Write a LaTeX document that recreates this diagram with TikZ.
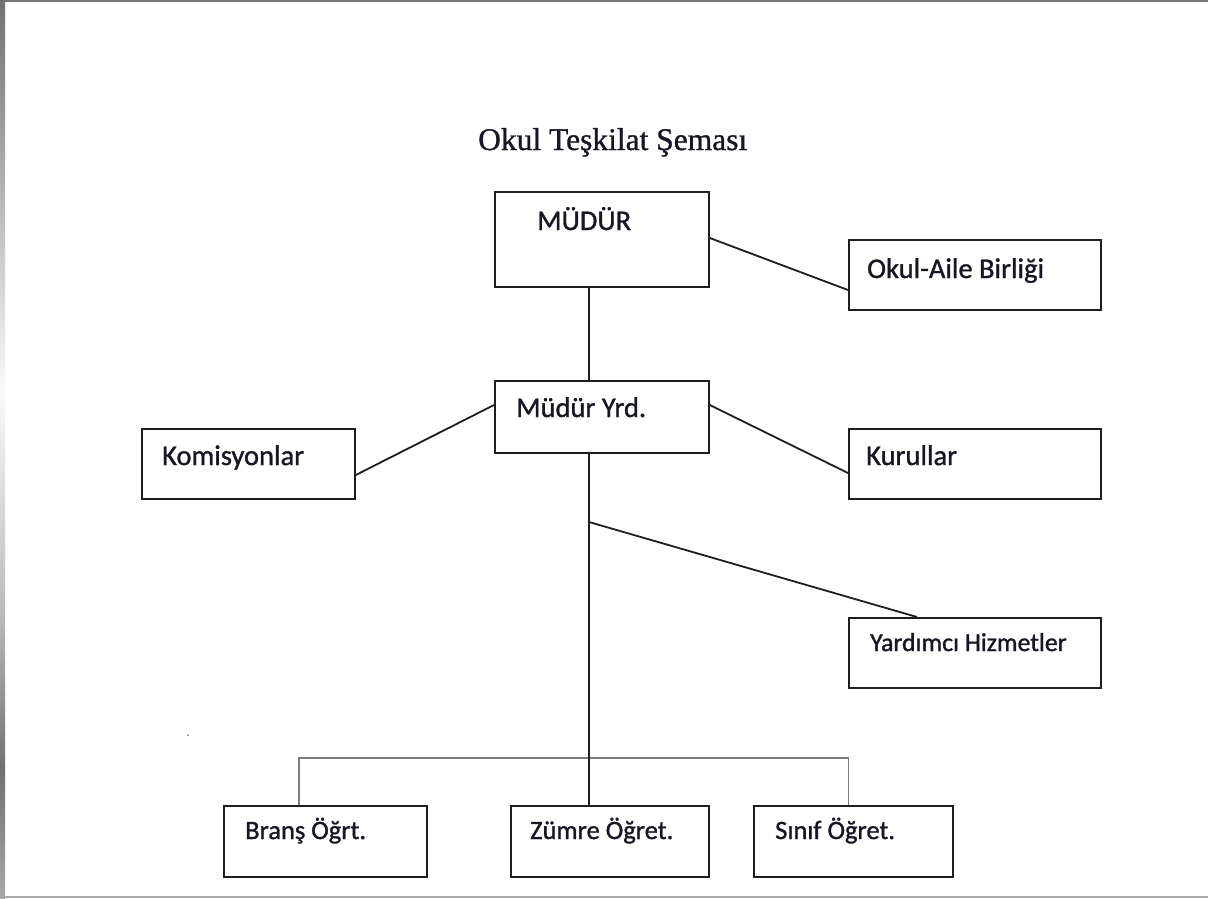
\documentclass[tikz,border=0pt]{standalone}
\usepackage{fontspec}
\setmainfont{Carlito}
\newfontfamily\titlefont{Liberation Serif}
\definecolor{textc}{RGB}{22,22,36}
\definecolor{linec}{RGB}{30,30,30}
\definecolor{brackc}{RGB}{125,125,125}
\definecolor{gA}{RGB}{112,112,112}
\definecolor{gB}{RGB}{176,176,176}
\definecolor{gC}{RGB}{250,250,250}
\definecolor{gD}{RGB}{184,184,184}
\definecolor{gE}{RGB}{168,168,168}
\definecolor{topc}{RGB}{119,119,119}
\definecolor{botc}{RGB}{170,170,170}
\newcommand{\heavytext}[1]{\special{pdf:literal direct 2 Tr 0.3 w}#1\special{pdf:literal direct 0 Tr}}
\tikzset{
  box/.style={draw=linec, line width=1.8pt, inner sep=0pt, anchor=north west},
  lbl/.style={anchor=base west, inner sep=0pt, text=textc, font=\fontsize{28.5}{34}\selectfont},
  slbl/.style={lbl, font=\fontsize{26.5}{31}\selectfont},
  conn/.style={draw=linec, line width=1.8pt},
  brack/.style={draw=brackc, line width=1.6pt}
}
\begin{document}
\begin{tikzpicture}[x=1pt,y=-1pt]
\useasboundingbox (0,0) rectangle (1208,898);
\fill[white] (0,0) rectangle (1208,898);
% frame
\shade[top color=gA, bottom color=gB] (0,0) rectangle (5,180);
\shade[top color=gB, bottom color=gC] (0,180) rectangle (5,390);
\shade[top color=gC, bottom color=gD] (0,390) rectangle (5,620);
\shade[top color=gD, bottom color=gA] (0,620) rectangle (5,770);
\shade[top color=gA, bottom color=gE] (0,770) rectangle (5,898);
\fill[topc] (5,0) rectangle (1208,1.5);
\fill[botc] (5,895.5) rectangle (1208,898);

% title
\node[anchor=base west, inner sep=0pt, text=textc, font=\titlefont\fontsize{31.5}{36}\selectfont] (title) at (478,150) {\heavytext{Okul Teşkilat Şeması}};

% boxes
\node[box, minimum width=214pt, minimum height=95pt] (mudur) at (494,191) {};
\node[box, minimum width=252pt, minimum height=70pt] (okul) at (848,239) {};
\node[box, minimum width=214pt, minimum height=72pt] (yrd) at (494,380) {};
\node[box, minimum width=213pt, minimum height=70pt] (kom) at (141,428) {};
\node[box, minimum width=252pt, minimum height=70pt] (kur) at (848,428) {};
\node[box, minimum width=252pt, minimum height=70pt] (yard) at (848,617) {};
\node[box, minimum width=203pt, minimum height=71pt] (brans) at (223,805) {};
\node[box, minimum width=198pt, minimum height=71pt] (zumre) at (510,805) {};
\node[box, minimum width=199pt, minimum height=71pt] (sinif) at (753,805) {};

% labels
\node[lbl] (tmudur) at (537,230) {\heavytext{MÜDÜR}};
\node[lbl] (tokul) at (867,278) {\heavytext{Okul-Aile Birliği}};
\node[lbl] (tyrd) at (516,417) {\heavytext{Müdür Yrd.}};
\node[lbl] (tkom) at (162,465) {\heavytext{Komisyonlar}};
\node[lbl] (tkur) at (866,465) {\heavytext{Kurullar}};
\node[lbl, font=\fontsize{25.8}{30}\selectfont] (tyard) at (870,651) {\heavytext{Yardımcı Hizmetler}};
\node[slbl] (tbrans) at (245,839) {\heavytext{Branş Öğrt.}};
\node[slbl] (tzumre) at (530,839) {\heavytext{Zümre Öğret.}};
\node[slbl] (tsinif) at (775,839) {\heavytext{Sınıf Öğret.}};

% connectors
\coordinate (j) at (589,522);
\coordinate (bl) at (299,758);
\coordinate (br) at (848.5,758);
\draw[conn] ([xshift=95pt]mudur.south west) -- ([xshift=95pt]yrd.north west);
\draw[conn] ([yshift=-47pt]mudur.north east) -- ([yshift=-51pt]okul.north west);
\draw[conn] ([yshift=-25pt]yrd.north west) -- ([yshift=-47pt]kom.north east);
\draw[conn] ([yshift=-25pt]yrd.north east) -- ([yshift=-45pt]kur.north west);
\draw[brack] ([xshift=76pt]brans.north west) -- (bl) -- (br) -- ([xshift=95.5pt]sinif.north west);
\draw[conn] ([xshift=95pt]yrd.south west) -- ([xshift=79pt]zumre.north west);
\draw[conn] (j) -- ([xshift=69pt]yard.north west);
\fill[brackc] (188,735) circle (1pt) coordinate (dot);
\end{tikzpicture}
\end{document}
